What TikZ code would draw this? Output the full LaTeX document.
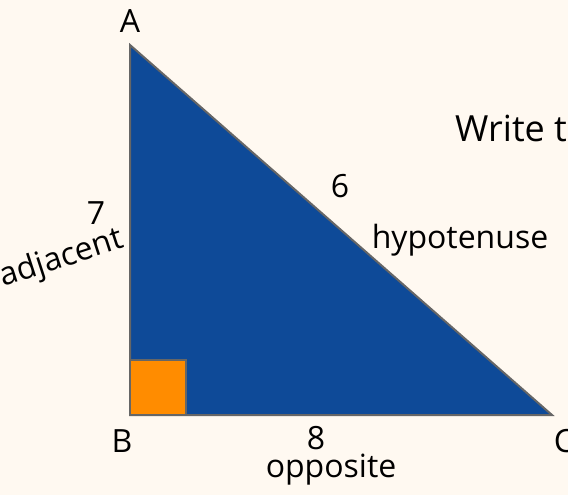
\documentclass[tikz,border=0pt]{standalone}
\usepackage{fontspec}
\setmainfont{Open Sans}
\definecolor{cream1}{HTML}{FFF9F1}
\definecolor{blue1}{HTML}{0E4A98}
\definecolor{orange1}{HTML}{FF8C00}
\definecolor{edge1}{HTML}{666666}
\usetikzlibrary{positioning}

\begin{document}
\begin{tikzpicture}[x=1pt, y=-1pt,
    lbl/.style={font=\fontsize{32}{38}\selectfont, inner sep=0pt, text=black},
    side/.style={draw=edge1, line width=2pt, line join=miter}]
  % background and frame
  \fill[cream1] (0,0) rectangle (568,495);
  \useasboundingbox (0,0) rectangle (568,495);

  % corners of the triangle
  \coordinate (ptA) at (130,45);
  \coordinate (ptB) at (130,415);
  \coordinate (ptC) at (552,415);

  \filldraw[side, fill=blue1] (ptA) -- (ptB) -- (ptC) -- cycle;
  \filldraw[side, fill=orange1] (ptB) rectangle ++(56,-55);

  % vertex names
  \node[lbl] (nameA) at (130,21) {A};
  \node[lbl] (nameB) at (122,441) {B};
  \node[lbl] (nameC) at (564,441) {C};

  % side labels
  \node[lbl] (hypLen) at (340,186) {6};
  \node[lbl] (hypName) at (460,240) {hypotenuse};
  \node[lbl] (adjLen) at (96,213) {7};
  \node[lbl, rotate=18] (adjName) at (62,259) {adjacent};
  \node[lbl] (oppLen) at (316,438) {8};
  \node[lbl] (oppName) at (331,470) {opposite};

  % heading, cut at the edge
  \node[lbl, font=\fontsize{36}{42}\selectfont, anchor=west] (task) at (455,128) {Write t};
\end{tikzpicture}
\end{document}
